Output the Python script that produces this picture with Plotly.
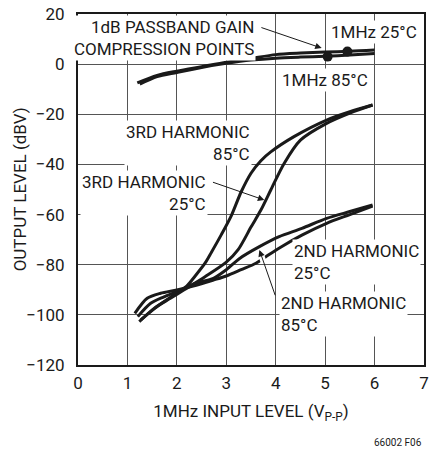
import plotly.graph_objects as go

# ---- data ----
comp25_x = [1.2, 1.6, 2.0, 2.5, 3.0, 3.5, 4.0, 4.5, 5.0, 5.5, 6.0]
comp25_y = [-7.5, -4.5, -2.8, -1.0, 0.8, 2.3, 3.8, 4.4, 4.8, 5.1, 5.6]
comp85_x = [1.25, 1.6, 2.0, 2.5, 3.0, 3.5, 4.0, 4.5, 5.0, 5.5, 6.0]
comp85_y = [-8.0, -5.0, -3.3, -1.3, 0.3, 1.6, 2.4, 2.8, 3.1, 3.6, 4.2]

h3_85_x = [1.27, 1.6, 1.94, 2.2, 2.37, 2.57, 2.7, 2.9, 3.1, 3.3, 3.5, 3.7, 3.9, 4.37, 5.03, 5.5, 5.96]
h3_85_y = [-102.0, -96.7, -92.1, -88.5, -84.5, -79.4, -75.0, -68.0, -60.5, -51.0, -43.5, -38.5, -35.0, -28.9, -22.3, -19.0, -16.3]

h3_25_x = [1.24, 1.54, 1.87, 2.14, 2.57, 3.0, 3.24, 3.5, 3.7, 3.9, 4.17, 4.5, 5.03, 5.5, 5.96]
h3_25_y = [-102.7, -97.4, -93.4, -90.1, -84.8, -79.0, -74.0, -65.0, -58.2, -50.2, -39.6, -30.3, -23.6, -19.5, -16.3]

h2_85_x = [1.21, 1.47, 1.74, 2.0, 2.37, 2.74, 3.0, 3.27, 3.67, 4.07, 4.53, 5.03, 5.5, 5.96]
h2_85_y = [-100.7, -95.4, -92.8, -90.7, -87.5, -85.4, -82.0, -77.5, -72.8, -68.8, -65.5, -61.5, -58.8, -56.2]

h2_25_x = [1.15, 1.4, 1.67, 2.0, 2.33, 2.74, 3.0, 3.3, 3.6, 3.8, 4.1, 4.53, 5.03, 5.5, 5.96]
h2_25_y = [-99.4, -93.4, -91.4, -90.1, -88.5, -86.1, -84.5, -82.0, -79.4, -76.8, -73.0, -68.2, -63.5, -60.0, -56.6]

dot_x = [5.45, 5.05]
dot_y = [5.0, 3.0]

x_ticks = [0, 1, 2, 3, 4, 5, 6, 7]
y_ticks = [-120, -100, -80, -60, -40, -20, 0, 20]

FONT = "Roboto, Liberation Sans, sans-serif"
FS = 17
INK = "#1a1a1a"

fig = go.Figure()
for xs, ys in [(comp25_x, comp25_y), (comp85_x, comp85_y),
               (h3_85_x, h3_85_y), (h3_25_x, h3_25_y),
               (h2_85_x, h2_85_y), (h2_25_x, h2_25_y)]:
    fig.add_trace(go.Scatter(x=xs, y=ys, mode="lines",
                             line=dict(color=INK, width=3, shape="spline", smoothing=0.8),
                             hoverinfo="skip", showlegend=False))
fig.add_trace(go.Scatter(x=dot_x, y=dot_y, mode="markers",
                         marker=dict(color=INK, size=10), showlegend=False, hoverinfo="skip"))

def label(text, x, y, align, anchor):
    fig.add_annotation(x=x, y=y, xref="x", yref="y", text=text, showarrow=False,
                       align=align, xanchor=anchor, yanchor="middle",
                       bgcolor="white", borderpad=1,
                       font=dict(family=FONT, size=FS, color=INK))

def arrow(x0, y0, x1, y1):
    fig.add_annotation(x=x1, y=y1, ax=x0, ay=y0, xref="x", yref="y", axref="x", ayref="y",
                       text="", showarrow=True, arrowhead=2, arrowsize=1.3,
                       arrowwidth=1, arrowcolor=INK, standoff=0, startstandoff=0)

label("1dB PASSBAND GAIN<br>COMPRESSION POINTS", 3.6, 10.6, "right", "right")
label("1MHz 25°C", 5.07, 12.8, "left", "left")
label("1MHz 85°C", 4.09, -6.3, "left", "left")
label("3RD HARMONIC<br>85°C", 3.52, -31.5, "right", "right")
label("3RD HARMONIC<br>25°C", 2.64, -51.4, "right", "right")
label("2ND HARMONIC<br>25°C", 4.33, -79.1, "left", "left")
label("2ND HARMONIC<br>85°C", 4.07, -99.7, "left", "left")

# white break in the 2nd-harmonic 25°C curve where the leader line crosses it
fig.add_shape(type="line", xref="x", yref="y", x0=3.762, y0=-79.34, x1=3.703, y1=-75.97,
              line=dict(color="white", width=6), layer="above")

arrow(3.68, 14.8, 4.93, 6.4)
arrow(2.70, -46.9, 3.77, -54.2)
arrow(4.0, -92.8, 3.67, -74.1)

# y-axis title (placed as a rotated text for exact position)
fig.add_annotation(x=-0.168, y=0.5, xref="paper", yref="paper", text="OUTPUT LEVEL (dBV)",
                   textangle=-90, showarrow=False, xanchor="center", yanchor="middle",
                   font=dict(family=FONT, size=FS, color=INK))

fig.add_annotation(x=1, y=-0.222, xref="paper", yref="paper", text="66002 F06",
                   showarrow=False, xanchor="right", yanchor="middle",
                   font=dict(family=FONT, size=10, color=INK))

axis_common = dict(showgrid=True, gridcolor="#555555", gridwidth=1.2,
                   showline=True, linecolor=INK, linewidth=2, mirror=True,
                   zeroline=False, ticks="outside", tickcolor="rgba(0,0,0,0)",
                   ticklabeloverflow="allow",
                   tickfont=dict(family=FONT, size=FS, color=INK))

fig.update_xaxes(range=[0, 7], tickvals=x_ticks, ticklen=2,
                 title=dict(text="1MHz INPUT LEVEL (V<sub>P-P</sub>)",
                            font=dict(family=FONT, size=FS, color=INK), standoff=13),
                 **axis_common)
fig.update_yaxes(range=[-120, 20], tickvals=y_ticks, ticklen=8, **axis_common)

fig.update_layout(width=431, height=450, plot_bgcolor="white", paper_bgcolor="white",
                  margin=dict(l=78, r=2, t=14, b=85), showlegend=False,
                  font=dict(family=FONT, color=INK))

# remove the browser's default page margin so the figure fills the window exactly
fig.write_html("out.html", config={"displayModeBar": False},
               post_script="document.body.style.margin='0';document.body.style.overflow='hidden';")
